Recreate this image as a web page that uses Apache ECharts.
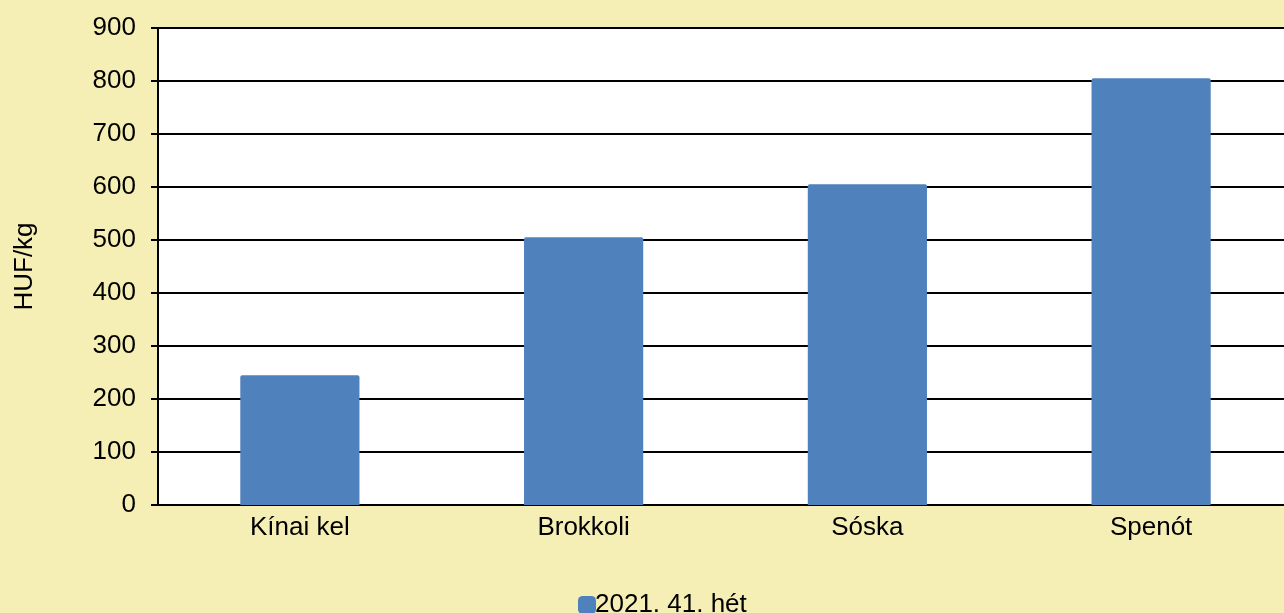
<!DOCTYPE html>
<html>
<head>
<meta charset="utf-8">
<script src="https://cdn.jsdelivr.net/npm/echarts@6/dist/echarts.min.js"></script>
<style>
html,body{margin:0;padding:0;background:#F5EFB5;overflow:hidden;}
#c{width:1300px;height:613px;}
</style>
</head>
<body>
<div id="c"></div>
<script>
const categories = ['Kínai kel', 'Brokkoli', 'Sóska', 'Spenót'];
const seriesName = '2021. 41. hét';
const values = [245, 505, 605, 805];
const yMin = 0, yMax = 900, yStep = 100;
const yAxisName = 'HUF/kg';

const chart = echarts.init(document.getElementById('c'));
chart.setOption({
  backgroundColor: '#F5EFB5',
  animation: false,
  textStyle: { fontFamily: 'Liberation Sans, Arial, sans-serif' },
  grid: { left: 158, top: 28, width: 1135, height: 477, containLabel: false, show: true, backgroundColor: '#FFFFFF', borderWidth: 0 },
  legend: {
    top: 587, left: 573,
    itemWidth: 18, itemHeight: 18, itemGap: 10,
    icon: 'roundRect',
    textStyle: { fontSize: 26, color: '#000', padding: [0, 0, 0, -6] },
    data: [seriesName]
  },
  xAxis: {
    type: 'category',
    data: categories,
    axisLine: { lineStyle: { color: '#000', width: 2 } },
    axisTick: { show: false },
    axisLabel: { fontSize: 26, color: '#000', margin: 10 }
  },
  yAxis: {
    type: 'value',
    min: yMin, max: yMax, interval: yStep,
    name: yAxisName,
    nameLocation: 'middle',
    nameGap: 120,
    nameRotate: 90,
    nameTextStyle: { fontSize: 26, color: '#000' },
    axisLine: { show: true, lineStyle: { color: '#000', width: 2 } },
    axisTick: { show: true, length: 7, lineStyle: { color: '#000', width: 2 } },
    axisLabel: { fontSize: 26, color: '#000', margin: 22 },
    splitLine: { show: true, lineStyle: { color: '#000', width: 2 } }
  },
  series: [{
    name: seriesName,
    type: 'bar',
    data: values,
    barWidth: '42%',
    itemStyle: { color: '#4F81BD', borderRadius: [2, 2, 0, 0] }
  }]
});
</script>
</body>
</html>
